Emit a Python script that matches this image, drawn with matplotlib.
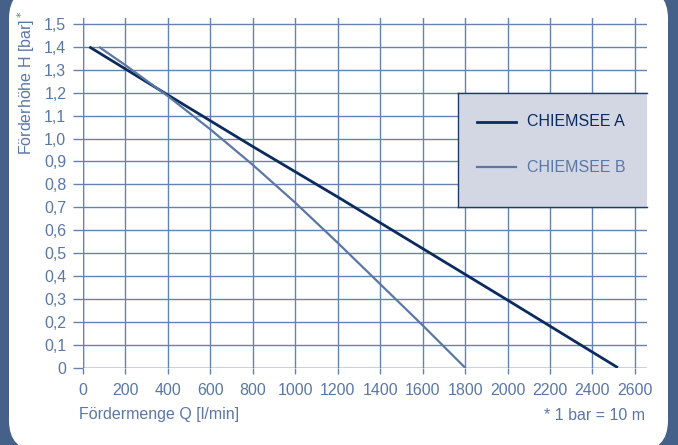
import matplotlib
matplotlib.use("Agg")
import matplotlib.pyplot as plt
from matplotlib.patches import FancyBboxPatch, Rectangle
from matplotlib.lines import Line2D

plt.rcParams['font.family'] = ['Liberation Sans', 'DejaVu Sans']

# Data
q_a = [30, 400, 800, 1200, 1600, 2000, 2520]
h_a = [1.40, 1.19, 0.965, 0.745, 0.52, 0.295, 0.0]
q_b = [75, 200, 400, 600, 800, 1000, 1200, 1400, 1600, 1800]
h_b = [1.40, 1.32, 1.185, 1.04, 0.885, 0.72, 0.545, 0.365, 0.185, 0.0]
x_ticks = [0, 200, 400, 600, 800, 1000, 1200, 1400, 1600, 1800, 2000, 2200, 2400, 2600]
y_ticks = [0, 0.1, 0.2, 0.3, 0.4, 0.5, 0.6, 0.7, 0.8, 0.9, 1.0, 1.1, 1.2, 1.3, 1.4, 1.5]
y_tick_labels = ['0', '0,1', '0,2', '0,3', '0,4', '0,5', '0,6', '0,7', '0,8', '0,9',
                 '1,0', '1,1', '1,2', '1,3', '1,4', '1,5']
series_names = ['CHIEMSEE A', 'CHIEMSEE B']

W, H = 678, 445
BG = '#45618a'
GRID = '#6582b0'
TXT = '#5a77a5'
COL_A = '#0b2b5f'
COL_B = '#5b77a5'
FS = 11.5

fig = plt.figure(figsize=(W / 100, H / 100), dpi=100)
fig.patch.set_facecolor(BG)

def fx(px):
    return px / W

def fy(py):
    return 1 - py / H

# white rounded panel
panel = FancyBboxPatch((fx(9), fy(451)), fx(668) - fx(9), fy(-12) - fy(451),
                       boxstyle="round,pad=0,rounding_size=0.045",
                       transform=fig.transFigure, facecolor='white', edgecolor='none',
                       mutation_aspect=W / H, zorder=-5)
fig.patches.append(panel)

ax = fig.add_axes([fx(83), fy(367.7), fx(647) - fx(83), fy(18) - fy(367.7)])
ax.set_zorder(1)
ax.set_facecolor('none')
ax.set_xlim(0, 2657)
ax.set_ylim(0, 1.526)
for s in ax.spines.values():
    s.set_visible(False)
ax.set_xticks(x_ticks)
ax.set_yticks(y_ticks)
ax.set_yticklabels(y_tick_labels)
ax.grid(True, color=GRID, linewidth=1.0)
ax.set_axisbelow(True)
ax.tick_params(axis='x', length=4, width=1.0, color=GRID, labelcolor=TXT, labelsize=FS, pad=7)
ax.tick_params(axis='y', length=7, width=1.0, color=GRID, labelcolor=TXT, labelsize=FS, pad=5)
ax.axvline(0, color=GRID, linewidth=1.0, zorder=1)
ax.axhline(0, color=GRID, linewidth=1.0, zorder=1)

ax.plot(q_a, h_a, color=COL_A, linewidth=2.0, solid_capstyle='butt', zorder=3)
ax.plot(q_b, h_b, color=COL_B, linewidth=1.6, solid_capstyle='butt', zorder=3)

# legend box
lx0, lx1, ly0, ly1 = 458, 647, 93, 207
fig.patches.append(Rectangle((fx(lx0), fy(ly1)), fx(lx1) - fx(lx0), fy(ly0) - fy(ly1),
                             transform=fig.transFigure, facecolor='#d3d7e3',
                             edgecolor='none', zorder=5))
for xs, ys in [([lx1, lx0], [ly0, ly0]), ([lx0, lx0], [ly0, ly1]), ([lx0, lx1], [ly1, ly1])]:
    fig.add_artist(Line2D([fx(v) for v in xs], [fy(v) for v in ys], color='#1f3b6c',
                          linewidth=1.0, zorder=6))
for name, col, lw, yy in [(series_names[0], COL_A, 2.0, 122), (series_names[1], COL_B, 1.6, 167)]:
    fig.add_artist(Line2D([fx(477), fx(516)], [fy(yy), fy(yy)], color=col, linewidth=lw, zorder=6))
    fig.text(fx(527), fy(yy), name, color=col, fontsize=FS, va='center', ha='left', zorder=7)

# labels
fig.text(fx(26), fy(10), 'Förderhöhe H [bar]$^*$', rotation=90, color=TXT, fontsize=FS,
         ha='center', va='top')
fig.text(fx(79), fy(415), 'Fördermenge Q [l/min]', color=TXT, fontsize=FS, ha='left', va='center')
fig.text(fx(645), fy(415), '* 1 bar = 10 m', color=TXT, fontsize=FS, ha='right', va='center')

fig.savefig('out.png', dpi=100, facecolor=fig.get_facecolor())
